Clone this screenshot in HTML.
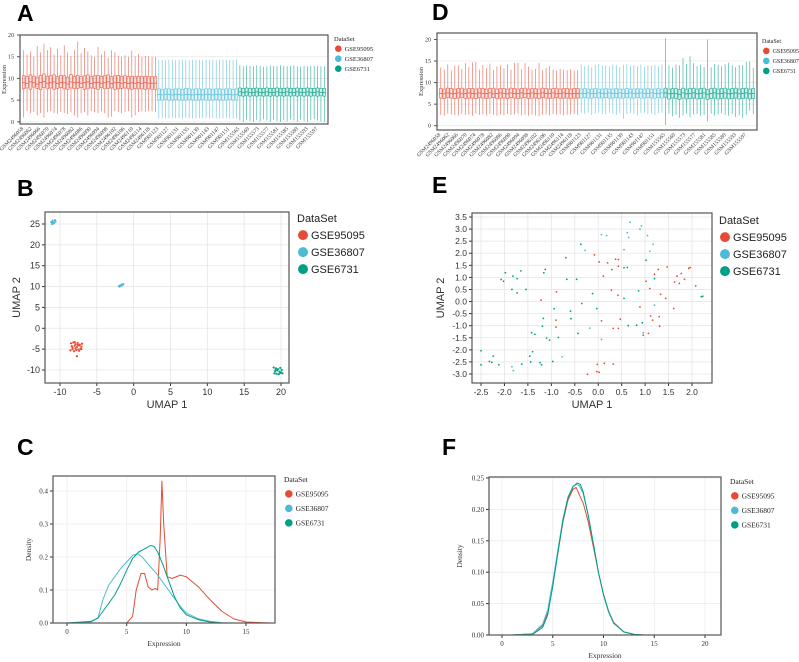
<!DOCTYPE html>
<html><head><meta charset="utf-8"><style>
html,body{margin:0;padding:0;background:#fff}
svg{display:block}
.lab{font-family:"Liberation Sans",Arial,sans-serif;font-weight:bold;font-size:23px;fill:#000}
.serif{font-family:"Liberation Serif",serif}
.sans{font-family:"Liberation Sans",sans-serif}
</style></head><body>
<svg id="fig" width="799" height="662" viewBox="0 0 799 662" xmlns="http://www.w3.org/2000/svg">
<text class="lab" x="17" y="21">A</text>
<text class="lab" x="17" y="196">B</text>
<text class="lab" x="17" y="455">C</text>
<text class="lab" x="432" y="20">D</text>
<text class="lab" x="432" y="193">E</text>
<text class="lab" x="442" y="455">F</text>
</svg>
<script>
const COLORS=["#e64b35","#4dbbd5","#00a087"];
const GROUPS=["GSE95095","GSE36807","GSE6731"];
// ---- Panel A data (boxplots, pre-normalization) ----
const aRedHi=[16.5,15.5,16.2,15.0,17.5,16.0,18.0,16.5,17.2,15.5,16.8,15.3,17.6,16.0,15.2,16.5,18.5,15.8,17.0,16.2,15.3,15.0,17.3,15.5,16.3,14.8,16.5,16.0,15.2,15.0,15.3,15.0,16.4,15.1,15.6,15.0,15.2,15.1,15.0,15.0];
const aRedLo=[1.0,2.5,2.0,2.3,1.5,2.0,1.0,2.2,2.5,2.0,1.8,2.3,2.0,1.8,2.2,1.5,1.0,2.0,2.3,1.5,2.5,2.2,2.0,2.4,2.0,1.0,1.2,2.5,2.2,2.0,2.3,2.5,1.0,1.5,2.2,2.4,2.3,2.5,2.4,2.3];
const aRedQ1=[7.6,7.8,7.5,8.0,7.7,7.4,7.9,7.6,7.8,7.5,7.7,7.9,7.6,7.5,7.8,7.6,7.7,7.9,7.5,7.6,7.8,7.7,7.5,7.9,7.6,7.7,7.8,7.5,7.6,7.7,7.8,7.6,7.5,7.7,7.6,7.6,7.5,7.6,7.5,7.5];
const aRedMed=[9.0,8.8,9.2,9.0,8.7,9.1,9.3,8.9,9.0,9.2,8.8,9.1,9.0,8.7,9.2,9.0,9.1,8.9,9.0,9.2,8.8,9.0,9.1,8.9,9.0,9.2,8.8,9.0,9.1,8.9,9.0,8.8,9.0,8.9,9.0,8.9,9.0,8.9,8.9,8.9];
const aRedQ3=[10.6,10.4,10.8,10.5,10.3,10.7,11.0,10.5,10.6,10.8,10.4,10.7,10.6,10.3,10.9,10.5,10.7,10.4,10.6,10.8,10.4,10.6,10.7,10.5,10.6,10.8,10.4,10.6,10.7,10.5,10.6,10.4,10.5,10.4,10.5,10.4,10.5,10.4,10.4,10.4];
const aBlueHi=[14.3,14.3,14.2,14.3,14.3,14.2,14.3,14.3,14.3,14.2,14.3,14.3,14.3,14.2,14.3,14.3,14.3,14.2,14.3,14.3,14.3,14.3,14.2,14.4];
const aBlueLo=[0.8,0.9,0.8,0.8,0.9,0.8,0.8,0.8,0.9,0.8,0.8,0.8,0.9,0.8,0.8,0.8,0.9,0.8,0.8,0.8,0.9,0.8,0.8,0.8];
const aBlueQ1=[5.0,5.0,5.1,5.0,5.0,5.1,5.0,5.0,5.0,5.1,5.0,5.0,5.0,5.1,5.0,5.0,5.0,5.1,5.0,5.0,5.0,5.1,5.0,5.0];
const aBlueMed=[6.3,6.2,6.3,6.3,6.2,6.3,6.3,6.2,6.3,6.3,6.2,6.3,6.3,6.2,6.3,6.3,6.2,6.3,6.3,6.2,6.3,6.3,6.2,6.3];
const aBlueQ3=[7.6,7.5,7.6,7.6,7.5,7.6,7.6,7.5,7.7,7.6,7.5,7.6,7.6,7.5,7.6,7.6,7.5,7.6,7.6,7.5,7.6,7.6,7.5,7.6];
const aGreenHi=[13.0,12.8,13.0,12.9,12.8,13.0,12.9,12.7,12.8,13.0,12.9,12.8,13.0,12.9,12.8,12.9,13.0,12.8,12.7,12.9,12.8,12.9,12.8,12.9,12.8,12.8];
const aGreenLo=[0.3,0.0,0.5,0.2,0.0,0.4,0.1,0.6,0.3,0.0,0.5,0.2,0.0,0.4,0.1,0.6,0.3,0.0,0.5,0.2,0.0,0.4,0.6,0.3,0.1,0.0];
const aGreenQ1=[6.0,5.9,6.0,5.9,6.0,5.9,6.0,5.9,6.0,5.9,6.0,5.9,6.0,5.9,6.0,5.9,6.0,5.9,6.0,5.9,6.0,5.9,6.0,5.9,6.0,5.9];
const aGreenMed=[6.9,6.8,6.9,6.8,6.8,6.9,6.8,6.8,6.9,6.8,6.8,6.9,6.8,6.8,6.9,6.8,6.8,6.9,6.8,6.8,6.9,6.8,6.8,6.9,6.8,6.8];
const aGreenQ3=[7.8,7.7,7.8,7.7,7.7,7.8,7.7,7.7,7.8,7.7,7.7,7.8,7.7,7.7,7.8,7.7,7.7,7.8,7.7,7.7,7.8,7.7,7.7,7.8,7.7,7.7];
// ---- Panel D data (boxplots, normalized) ----
const dRedHi=[13.5,13.0,14.2,12.8,13.9,14.0,13.2,14.5,13.6,14.7,14.8,13.0,14.1,13.4,14.4,12.9,13.8,14.0,13.3,14.2,13.0,14.6,14.6,13.1,14.5,13.7,13.0,13.2,14.5,12.9,13.4,13.8,13.0,12.8,13.2,13.0,12.9,13.1,12.8,12.9];
const dRedLo=[2.5,2.3,2.8,2.6,2.5,2.4,2.7,2.5,2.6,2.3,2.8,2.5,2.6,2.4,2.7,2.5,2.3,2.6,2.4,2.7,2.5,2.6,2.8,2.4,2.5,2.3,2.6,2.4,2.2,2.5,2.6,2.4,2.7,2.5,2.6,2.4,2.5,2.6,2.7,2.5];
const dRedQ1=[6.4,6.3,6.5,6.4,6.3,6.4,6.5,6.3,6.4,6.4,6.3,6.5,6.4,6.3,6.4,6.5,6.3,6.4,6.4,6.3,6.5,6.4,6.3,6.4,6.5,6.3,6.4,6.4,6.3,6.5,6.4,6.3,6.4,6.5,6.3,6.4,6.4,6.3,6.4,6.4];
const dRedMed=[7.5,7.4,7.6,7.5,7.5,7.6,7.4,7.5,7.6,7.5,7.4,7.6,7.5,7.5,7.6,7.4,7.5,7.6,7.5,7.4,7.6,7.5,7.5,7.6,7.4,7.5,7.6,7.5,7.4,7.6,7.5,7.5,7.6,7.4,7.5,7.6,7.5,7.4,7.5,7.5];
const dRedQ3=[8.6,8.5,8.7,8.6,8.5,8.6,8.7,8.5,8.6,8.6,8.5,8.7,8.6,8.5,8.6,8.7,8.5,8.6,8.6,8.5,8.7,8.6,8.5,8.6,8.7,8.5,8.6,8.6,8.5,8.7,8.6,8.5,8.6,8.7,8.5,8.6,8.6,8.5,8.6,8.6];
const dBlueHi=[14.2,13.8,14.0,13.6,14.1,14.3,13.9,14.0,13.7,14.2,14.0,13.6,14.1,14.3,13.9,14.0,13.8,14.2,13.7,14.0,13.9,14.1,13.8,14.2];
const dBlueLo=[3.0,2.8,3.0,2.5,2.9,3.0,2.7,2.6,3.0,2.8,2.5,2.9,1.6,2.7,3.0,2.8,2.4,2.9,3.0,2.7,2.8,2.5,2.9,3.0];
const dBlueQ1=[6.4,6.5,6.4,6.4,6.5,6.4,6.4,6.5,6.4,6.4,6.5,6.4,6.4,6.5,6.4,6.4,6.5,6.4,6.4,6.5,6.4,6.4,6.5,6.4];
const dBlueMed=[7.5,7.5,7.6,7.5,7.5,7.6,7.5,7.5,7.6,7.5,7.5,7.6,7.5,7.5,7.6,7.5,7.5,7.6,7.5,7.5,7.6,7.5,7.5,7.6];
const dBlueQ3=[8.5,8.6,8.5,8.5,8.6,8.5,8.5,8.6,8.5,8.5,8.6,8.5,8.5,8.6,8.5,8.5,8.6,8.5,8.5,8.6,8.5,8.5,8.6,8.5];
const dGreenHi=[20.3,14.0,13.5,14.2,14.0,15.7,14.3,16.1,14.5,13.8,14.1,13.6,20.0,13.5,14.3,14.1,13.8,14.2,14.6,14.0,13.6,14.1,14.0,14.8,14.9,13.4];
const dGreenLo=[0.2,2.8,2.2,2.5,1.8,2.4,2.8,2.0,2.6,2.7,2.3,2.5,1.0,2.8,2.4,2.6,2.9,2.5,2.3,2.7,2.0,2.4,1.8,2.5,3.5,2.7];
const dGreenQ1=[6.6,6.2,6.4,6.3,6.1,6.4,6.2,6.3,6.4,6.2,6.3,6.4,6.1,6.3,6.4,6.2,6.3,6.4,6.2,6.3,6.4,6.2,6.3,6.4,6.2,6.3];
const dGreenMed=[7.6,7.4,7.5,7.5,7.3,7.6,7.4,7.5,7.6,7.4,7.5,7.6,7.3,7.5,7.6,7.4,7.5,7.6,7.4,7.5,7.6,7.4,7.5,7.6,7.4,7.5];
const dGreenQ3=[8.7,8.5,8.6,8.6,8.4,8.7,8.5,8.6,8.7,8.5,8.6,8.7,8.4,8.6,8.7,8.5,8.6,8.7,8.5,8.6,8.7,8.5,8.6,8.7,8.5,8.6];
const redLabels=["GSM2496058","GSM2496062","GSM2496066","GSM2496070","GSM2496074","GSM2496078","GSM2496082","GSM2496086","GSM2496090","GSM2496094","GSM2496098","GSM2496102","GSM2496106","GSM2496110","GSM2496114","GSM2496118"];
const blueLabels=["GSM901123","GSM901127","GSM901131","GSM901135","GSM901139","GSM901143","GSM901147","GSM901151"];
const greenLabels=["GSM155565","GSM155569","GSM155573","GSM155577","GSM155581","GSM155585","GSM155589","GSM155593","GSM155597"];
// ---- Panel B data (UMAP before) ----
const bRedX=[-8.5,-8.2,-7.9,-7.6,-7.3,-7.0,-8.4,-8.0,-7.7,-7.4,-7.1,-8.3,-7.9,-7.5,-7.2,-8.6,-8.1,-7.8,-7.4,-8.3,-7.6,-7.1,-7.7,-8.0];
const bRedY=[-3.6,-3.4,-3.8,-3.5,-3.9,-3.7,-4.3,-4.2,-4.5,-4.1,-4.4,-5.0,-4.8,-5.1,-4.9,-5.3,-5.5,-5.2,-5.4,-4.6,-4.0,-5.0,-6.7,-3.3];
const bBlueX=[-11.2,-11.0,-10.8,-10.6,-11.1,-10.9,-10.7,-11.0,-2.0,-1.8,-1.6,-1.4,-1.9,-1.7,-1.5];
const bBlueY=[25.5,25.8,25.3,25.6,25.0,25.1,25.9,25.4,10.1,10.3,10.5,10.6,10.0,10.2,10.4];
const bGreenX=[19.0,19.3,19.6,19.9,20.1,19.2,19.5,19.8,20.0,19.1,19.4,19.7,20.2,19.3,19.9];
const bGreenY=[-9.4,-9.6,-9.8,-9.5,-10.0,-10.3,-10.1,-10.4,-10.6,-10.8,-10.9,-11.0,-10.8,-9.9,-10.7];
// ---- Panel E data (UMAP after) ----
const eRedX=[-0.08,0.02,0.2,0.37,0.43,0.43,0.29,0.11,0.28,0.42,-0.02,-0.03,0.02,-0.23,0.13,0.32,0.47,0.32,0.43,0.07,-0.89,-1.22,-0.9,-0.9,0.89,1.1,1.12,1.02,1.2,1.28,1.3,1.31,1.33,1.44,1.47,1.61,1.63,1.68,1.73,1.77,1.84,1.93,1.96,2.08,1.07,0.96,1.16];
const eRedY=[1.93,1.64,1.6,1.75,1.46,1.74,1.32,1.05,0.47,0.26,-2.6,-2.9,-2.93,-3.01,-2.56,-2.59,-0.73,-1.11,-1.11,-0.8,0.4,0.06,-0.77,-1.06,-0.22,0.54,-0.6,0.84,1.13,1.33,-0.63,-1.02,0.3,0.13,1.43,-0.29,0.81,1.05,0.75,1.16,0.92,1.37,1.41,0.65,-1.32,-1.39,-0.77];
const eBlueX=[-1.84,-1.81,-0.77,-0.28,0.07,0.07,0.18,0.62,0.65,0.68,0.89,0.92,1.05,1.17,1.1,-0.18,0.55,0.96,1.2];
const eBlueY=[-2.7,-2.86,-2.29,2.12,2.77,-1.57,2.73,2.85,2.65,3.28,3.0,3.13,2.73,2.37,2.08,-1.1,2.15,-1.29,-0.15];
const eGreenX=[-2.5,-2.5,-2.32,-2.24,-2.27,-2.12,-2.07,-2.02,-1.98,-1.84,-1.82,-1.73,-1.73,-1.65,-1.54,-1.63,-1.42,-1.35,-1.46,-1.44,-1.4,-1.24,-1.21,-1.19,-1.17,-1.16,-1.13,-1.1,-1.04,-0.97,-0.94,-0.85,-0.69,-0.67,-0.46,-0.59,-0.58,-0.43,-0.35,-0.37,-0.12,-0.03,0.55,0.62,0.64,0.82,0.86,0.94,1.02,1.2,2.2,2.23,0.55];
const eGreenY=[-2.04,-2.62,-2.48,-2.26,-2.52,-2.62,0.91,0.84,1.19,0.5,1.05,0.95,0.36,1.27,0.5,-2.59,-1.29,-1.36,-2.26,-2.5,-2.08,-2.53,-2.62,-1.02,-0.7,1.19,1.33,-1.51,-1.6,-2.48,-0.3,-1.49,1.81,0.92,0.92,-0.4,-0.71,-1.32,-0.08,2.37,0.33,-0.29,0.13,1.41,-1.0,-0.98,0.44,-0.88,1.71,0.95,0.2,0.22,1.4];
// ---- Panel C data (density before) ----
const cRedX=[0,5,5.5,5.8,6.2,6.5,6.8,7.1,7.4,7.6,7.8,7.95,8.1,8.4,8.8,9.5,10,11,12,13,14,15,17];
const cRedY=[0,0,0.02,0.1,0.15,0.15,0.11,0.1,0.105,0.1,0.25,0.43,0.3,0.14,0.135,0.145,0.14,0.11,0.07,0.035,0.012,0.003,0];
const cBlueX=[0,2,2.6,3,3.5,4,4.5,5,5.5,5.9,6.3,7,7.5,8,8.5,9,9.5,10,11,12,13,14];
const cBlueY=[0,0.003,0.015,0.07,0.115,0.14,0.165,0.185,0.205,0.21,0.2,0.17,0.15,0.125,0.1,0.075,0.05,0.03,0.013,0.005,0.001,0];
const cGreenX=[0,2,2.6,3,3.5,4,4.5,5,5.5,6,6.5,7,7.3,7.6,8,8.5,9,9.5,10,11,12,13];
const cGreenY=[0,0.005,0.015,0.035,0.06,0.085,0.12,0.16,0.195,0.215,0.225,0.235,0.232,0.215,0.18,0.13,0.08,0.045,0.025,0.01,0.003,0];
// ---- Panel F data (density after) ----
const fRedX=[1,3,4,4.5,5,5.5,6,6.5,7,7.3,7.7,8,8.5,9,9.5,10,10.5,11,12,13,14,20.5];
const fRedY=[0,0.002,0.015,0.035,0.08,0.13,0.18,0.215,0.232,0.235,0.22,0.21,0.18,0.14,0.1,0.065,0.038,0.02,0.005,0.001,0,0];
const fBlueX=[1,3,4,4.5,5,5.5,6,6.5,7,7.3,7.6,8,8.5,9,9.5,10,10.5,11,12,13,14,20.5];
const fBlueY=[0,0.002,0.017,0.04,0.085,0.135,0.185,0.22,0.237,0.24,0.238,0.225,0.19,0.145,0.1,0.064,0.037,0.019,0.005,0.001,0,0];
const fGreenX=[1,3,4,4.5,5,5.5,6,6.5,7,7.4,7.7,8,8.5,9,9.5,10,10.5,11,12,13,14,20.5];
const fGreenY=[0,0.001,0.012,0.032,0.078,0.13,0.182,0.218,0.236,0.242,0.24,0.228,0.19,0.145,0.1,0.064,0.037,0.019,0.005,0.001,0,0];
const aTicks=[0,5,10,15,20];
const dTicks=[0,5,10,15,20];
const bXTicks=[-10,-5,0,5,10,15,20];
const bYTicks=[-10,-5,0,5,10,15,20,25];
const eXTicks=[-2.5,-2.0,-1.5,-1.0,-0.5,0.0,0.5,1.0,1.5,2.0];
const eYTicks=[-3.0,-2.5,-2.0,-1.5,-1.0,-0.5,0.0,0.5,1.0,1.5,2.0,2.5,3.0,3.5];
const cXTicks=[0,5,10,15];
const cYTicks=[0,0.1,0.2,0.3,0.4];
const fXTicks=[0,5,10,15,20];
const fYTicks=[0,0.05,0.1,0.15,0.2,0.25];

const NS="http://www.w3.org/2000/svg";
const svg=document.getElementById('fig');
function el(tag,attrs,parent){const e=document.createElementNS(NS,tag);for(const k in attrs)e.setAttribute(k,attrs[k]);(parent||svg).appendChild(e);return e;}
function lin(d0,d1,r0,r1){return v=>r0+(v-d0)/(d1-d0)*(r1-r0);}
function fmt(v,dec){return v.toFixed(dec);}

function legend(x,y,gap,cls,fs,r,name){
  const g=el('g',{});
  
  
  const t=el('text',{x:x,y:y,'font-size':fs,class:cls,fill:'#222'},g);t.textContent='DataSet';
  
  
  GROUPS.forEach((gn,i)=>{
    const cy=y+gap*(i+1)-fs*0.35;
    const c=el('circle',{cx:x+r+1,cy:cy,r:r,fill:COLORS[i]},g);
    
    
    const tt=el('text',{x:x+2*r+4,y:y+gap*(i+1),'font-size':fs,class:cls,fill:'#222'},g);tt.textContent=gn;
    
    
  });
}

function frame(x0,y0,x1,y1,name){
  const r=el('rect',{x:x0,y:y0,width:x1-x0,height:y1-y0,fill:'none',stroke:'#555','stroke-width':1.2});
  
  
}

// ---------- Boxplot panels ----------
function boxPanel(P){
  const y=lin(P.ymin,P.ymax,P.y1,P.y0);
  P.yticks.forEach(t=>{
    const l=el('line',{x1:P.x0,x2:P.x1,y1:y(t),y2:y(t),stroke:'#ececec','stroke-width':0.8});
    
    
    const tk=el('line',{x1:P.x0-3,x2:P.x0,y1:y(t),y2:y(t),stroke:'#555'});
    
    
    const tx=el('text',{x:P.x0-6,y:y(t)+2,'font-size':6,'text-anchor':'end',class:'serif',fill:'#333'});tx.textContent=t;
    
    
  });
  const n=P.sets.reduce((a,s)=>a+s.hi.length,0);
  const step=(P.x1-P.x0-4)/n;let k=0;
  P.sets.forEach((s,gi)=>{
    const col=COLORS[gi];
    for(let i=0;i<s.hi.length;i++,k++){
      const cx=P.x0+2+step*(k+0.5);
      const g=el('g',{stroke:col,'stroke-width':0.7,'stroke-opacity':0.75});
      
      
      el('line',{x1:cx,x2:cx,y1:y(s.hi[i]),y2:y(s.q3[i])},g);
      el('line',{x1:cx,x2:cx,y1:y(s.q1[i]),y2:y(s.lo[i])},g);
      el('rect',{x:cx-step*0.4,y:y(s.q3[i]),width:step*0.8,height:y(s.q1[i])-y(s.q3[i]),fill:col,'fill-opacity':0.15},g);
      el('line',{x1:cx-step*0.4,x2:cx+step*0.4,y1:y(s.med[i]),y2:y(s.med[i]),'stroke-opacity':1},g);
    }
  });
  frame(P.x0,P.y0,P.x1,P.y1,'plot-frame');
  const labels=[...redLabels.map(l=>[l,0]),...blueLabels.map(l=>[l,1]),...greenLabels.map(l=>[l,2])];
  let kk=0;
  P.sets.forEach((s,gi)=>{
    const lbls=labels.filter(l=>l[1]===gi);
    const per=s.hi.length/lbls.length;
    lbls.forEach((l,j)=>{
      const cx=P.x0+2+step*(kk+j*per+0.5);
      const t=el('text',{x:cx,y:P.y1+5,'font-size':5.5,'text-anchor':'end',class:'serif',fill:'#333',transform:'rotate(-45 '+cx+' '+(P.y1+5)+')'});
      t.textContent=l[0];
      
      
    });
    kk+=s.hi.length;
  });
  const yl=el('text',{x:0,y:0,'font-size':6.5,'text-anchor':'middle',class:'serif',fill:'#333',transform:'translate('+(P.x0-14)+','+((P.y0+P.y1)/2)+') rotate(-90)'});
  yl.textContent='Expression';
  
  
  legend(P.lx,P.ly,10,'serif',P.lfs,3.3,P.name+'-legend');
}
boxPanel({name:'a',x0:20,x1:328,y0:35,y1:124,ymin:-0.5,ymax:20,yticks:aTicks,lx:334,ly:41,lfs:6.5,
 sets:[{hi:aRedHi,lo:aRedLo,q1:aRedQ1,med:aRedMed,q3:aRedQ3},{hi:aBlueHi,lo:aBlueLo,q1:aBlueQ1,med:aBlueMed,q3:aBlueQ3},{hi:aGreenHi,lo:aGreenLo,q1:aGreenQ1,med:aGreenMed,q3:aGreenQ3}]});
boxPanel({name:'d',x0:437,x1:757,y0:33,y1:130,ymin:-1,ymax:21.5,yticks:dTicks,lx:762,ly:43,lfs:6,
 sets:[{hi:dRedHi,lo:dRedLo,q1:dRedQ1,med:dRedMed,q3:dRedQ3},{hi:dBlueHi,lo:dBlueLo,q1:dBlueQ1,med:dBlueMed,q3:dBlueQ3},{hi:dGreenHi,lo:dGreenLo,q1:dGreenQ1,med:dGreenMed,q3:dGreenQ3}]});

// ---------- Scatter panels ----------
function scatterPanel(P){
  const x=lin(P.xd[0],P.xd[1],P.xr[0],P.xr[1]);
  const y=lin(P.yd[0],P.yd[1],P.yr[0],P.yr[1]);
  P.xticks.forEach(t=>{
    const l=el('line',{x1:x(t),x2:x(t),y1:P.y0,y2:P.y1,stroke:'#e6e6e6','stroke-width':0.8});
    
    
    const tk=el('line',{x1:x(t),x2:x(t),y1:P.y1,y2:P.y1+3,stroke:'#333'});
    
    
    const tx=el('text',{x:x(t),y:P.y1+12,'font-size':P.fs,'text-anchor':'middle',class:'sans',fill:'#333'});tx.textContent=fmt(t,P.dec);
    
    
  });
  P.yticks.forEach(t=>{
    const l=el('line',{x1:P.x0,x2:P.x1,y1:y(t),y2:y(t),stroke:'#e6e6e6','stroke-width':0.8});
    
    
    const tk=el('line',{x1:P.x0-3,x2:P.x0,y1:y(t),y2:y(t),stroke:'#333'});
    
    
    const tx=el('text',{x:P.x0-5,y:y(t)+3,'font-size':P.fs,'text-anchor':'end',class:'sans',fill:'#333'});tx.textContent=fmt(t,P.dec);
    
    
  });
  P.series.forEach((s,gi)=>{
    s[0].forEach((v,i)=>{
      const c=el('circle',{cx:x(v),cy:y(s[1][i]),r:P.r,fill:COLORS[gi]});
      
      
    });
  });
  frame(P.x0,P.y0,P.x1,P.y1,'plot-frame');
  const xl=el('text',{x:(P.x0+P.x1)/2,y:P.y1+25,'font-size':11,'text-anchor':'middle',class:'sans',fill:'#333'});xl.textContent='UMAP 1';
  
  
  const yl=el('text',{x:0,y:0,'font-size':11,'text-anchor':'middle',class:'sans',fill:'#333',transform:'translate('+P.ylx+','+((P.y0+P.y1)/2)+') rotate(-90)'});yl.textContent='UMAP 2';
  
  
  legend(P.lx,P.ly,17,'sans',11,5,P.name+'-legend');
}
scatterPanel({name:'b',x0:45,x1:289,y0:212,y1:383,xd:[-10,20],xr:[60,281],yd:[-10,25],yr:[370,224],xticks:bXTicks,yticks:bYTicks,dec:0,fs:9,r:1.1,ylx:20,lx:297,ly:222,
  series:[[bRedX,bRedY],[bBlueX,bBlueY],[bGreenX,bGreenY]]});
scatterPanel({name:'e',x0:472,x1:712,y0:213,y1:383,xd:[-2.5,2.0],xr:[481,692],yd:[-3.0,3.5],yr:[374,217],xticks:eXTicks,yticks:eYTicks,dec:1,fs:8.5,r:0.9,ylx:444,lx:719,ly:224,
  series:[[eRedX,eRedY],[eBlueX,eBlueY],[eGreenX,eGreenY]]});

// ---------- Density panels ----------
function densityPanel(P){
  const x=lin(P.xd[0],P.xd[1],P.xr[0],P.xr[1]);
  const y=lin(P.yd[0],P.yd[1],P.yr[0],P.yr[1]);
  P.xticks.forEach(t=>{
    const l=el('line',{x1:x(t),x2:x(t),y1:P.y0,y2:P.y1,stroke:'#ececec','stroke-width':0.8});
    
    
    const tk=el('line',{x1:x(t),x2:x(t),y1:P.y1,y2:P.y1+3,stroke:'#333'});
    
    
    const tx=el('text',{x:x(t),y:P.y1+11,'font-size':7,'text-anchor':'middle',class:'serif',fill:'#333'});tx.textContent=t;
    
    
  });
  P.yticks.forEach(t=>{
    const l=el('line',{x1:P.x0,x2:P.x1,y1:y(t),y2:y(t),stroke:'#ececec','stroke-width':0.8});
    
    
    const tk=el('line',{x1:P.x0-3,x2:P.x0,y1:y(t),y2:y(t),stroke:'#333'});
    
    
    const tx=el('text',{x:P.x0-5,y:y(t)+2.5,'font-size':7,'text-anchor':'end',class:'serif',fill:'#333'});tx.textContent=fmt(t,P.dec);
    
    
  });
  P.series.forEach((s,gi)=>{
    const d=s[0].map((v,i)=>(i?'L':'M')+x(v).toFixed(1)+','+y(s[1][i]).toFixed(1)).join('');
    const p=el('path',{d:d,fill:'none',stroke:COLORS[gi],'stroke-width':1,'stroke-linejoin':'round'});
    
    
  });
  frame(P.x0,P.y0,P.x1,P.y1,'plot-frame');
  const xl=el('text',{x:(P.x0+P.x1)/2,y:P.y1+23,'font-size':7.5,'text-anchor':'middle',class:'serif',fill:'#333'});xl.textContent='Expression';
  
  
  const yl=el('text',{x:0,y:0,'font-size':7.5,'text-anchor':'middle',class:'serif',fill:'#333',transform:'translate('+P.ylx+','+((P.y0+P.y1)/2)+') rotate(-90)'});yl.textContent='Density';
  
  
  legend(P.lx,P.ly,14.5,'serif',7.5,3.8,P.name+'-legend');
}
densityPanel({name:'c',x0:53,x1:275,y0:476,y1:623,xd:[0,15],xr:[67,246],yd:[0,0.4],yr:[623,491],xticks:cXTicks,yticks:cYTicks,dec:1,ylx:31,lx:284,ly:482,
  series:[[cRedX,cRedY],[cBlueX,cBlueY],[cGreenX,cGreenY]]});
densityPanel({name:'f',x0:489,x1:721,y0:477,y1:635,xd:[0,20],xr:[502,705],yd:[0,0.25],yr:[635,478],xticks:fXTicks,yticks:fYTicks,dec:2,ylx:462,lx:730,ly:484,
  series:[[fRedX,fRedY],[fBlueX,fBlueY],[fGreenX,fGreenY]]});
</script>
</body></html>
